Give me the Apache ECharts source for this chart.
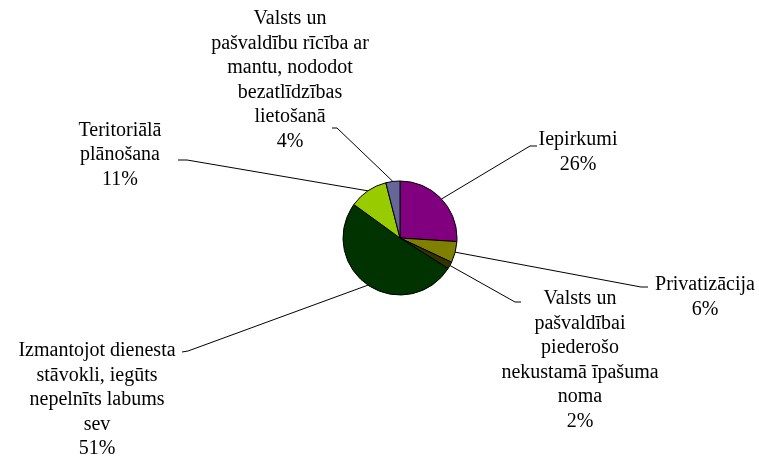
<!DOCTYPE html>
<html>
<head>
    <meta charset="utf-8">
    <title>ECharts</title>
    <script src="https://cdn.jsdelivr.net/npm/echarts@6.0.0/dist/echarts.min.js"></script>
</head>
<body style="margin:0">
    <div id="chart" style="width: 759px; height: 459px;"></div>
    <script>
        // kategorijas un vērtības (%)
        var categories = [
            'Iepirkumi',
            'Privatizācija',
            'Valsts un\npašvaldībai\npiederošo\nnekustamā īpašuma\nnoma',
            'Izmantojot dienesta\nstāvokli, iegūts\nnepelnīts labums\nsev',
            'Teritoriālā\nplānošana',
            'Valsts un\npašvaldību rīcība ar\nmantu, nododot\nbezatlīdzības\nlietošanā'
        ];
        var values = [26, 6, 2, 51, 11, 4];
        var colors = ['#800080', '#808000', '#333300', '#003300', '#99cc00', '#666699'];

        // etiķešu centri un līniju gali (px)
        var labelPos = [
            [578, 152], [705, 297], [580, 360], [97, 400], [120, 155], [290, 80]
        ];
        var lineEnds = [
            [[530, 146], [537, 146]],
            [[641, 287], [648, 287]],
            [[515, 302], [521, 302]],
            [[188, 351], [182, 352]],
            [[187, 160], [178, 160]],
            [[337, 128], [332, 128]]
        ];

        var chart = echarts.init(document.getElementById('chart'));
        var option = {
            animation: false,
            series: [{
                type: 'pie',
                center: [400, 238],
                radius: 57,
                startAngle: 90,
                clockwise: true,
                itemStyle: { borderColor: '#000', borderWidth: 1 },
                label: {
                    show: true,
                    formatter: '{b}\n{c}%',
                    fontFamily: 'Liberation Serif',
                    fontSize: 20,
                    lineHeight: 24.5,
                    color: '#000',
                    align: 'center'
                },
                labelLine: {
                    show: true,
                    length: 10,
                    length2: 10,
                    lineStyle: { color: '#000', width: 1 }
                },
                labelLayout: function (params) {
                    var i = params.dataIndex;
                    var p = labelPos[i];
                    var start = params.labelLinePoints ? params.labelLinePoints[0] : null;
                    var res = { x: p[0], y: p[1], align: 'center', verticalAlign: 'middle' };
                    if (start) {
                        res.labelLinePoints = [start, lineEnds[i][0], lineEnds[i][1]];
                    }
                    return res;
                },
                data: categories.map(function (name, i) {
                    return { name: name, value: values[i], itemStyle: { color: colors[i] } };
                })
            }]
        };
        chart.setOption(option);
    </script>
</body>
</html>
